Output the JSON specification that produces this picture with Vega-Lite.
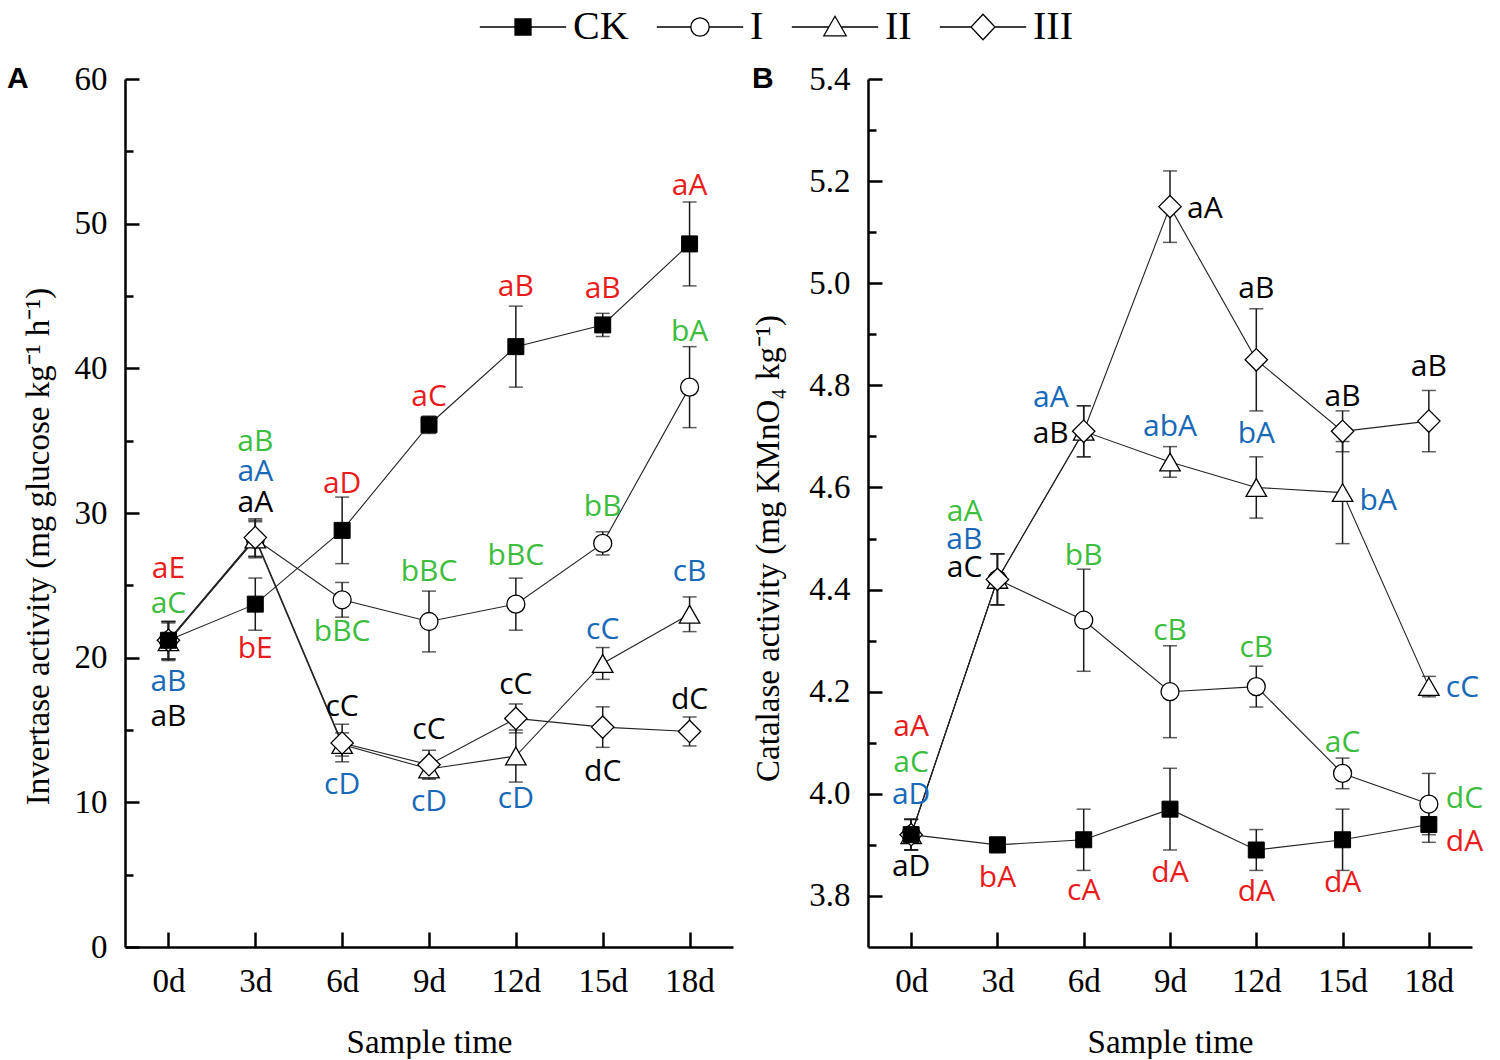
{
  "$schema": "https://vega.github.io/schema/vega-lite/v6.json",
  "background": "white",
  "padding": {"left": 7, "top": 7, "right": 5, "bottom": 0},
  "spacing": 135,
  "bounds": "flush",
  "datasets": {
    "inv": [
      {"day": 0, "s": "CK", "v": 21.2, "e": 1.3},
      {"day": 0, "s": "I", "v": 21.2, "e": 1.3},
      {"day": 0, "s": "II", "v": 21.1, "e": 1.3},
      {"day": 0, "s": "III", "v": 21.2, "e": 1.3},
      {"day": 3, "s": "CK", "v": 23.7, "e": 1.8},
      {"day": 3, "s": "I", "v": 28.2, "e": 1.3},
      {"day": 3, "s": "II", "v": 28.2, "e": 1.2},
      {"day": 3, "s": "III", "v": 28.3, "e": 1.3},
      {"day": 6, "s": "CK", "v": 28.8, "e": 2.3},
      {"day": 6, "s": "I", "v": 24.0, "e": 1.2},
      {"day": 6, "s": "II", "v": 14.0, "e": 0.8},
      {"day": 6, "s": "III", "v": 14.1, "e": 1.3},
      {"day": 9, "s": "CK", "v": 36.1, "e": 0.6},
      {"day": 9, "s": "I", "v": 22.5, "e": 2.1},
      {"day": 9, "s": "II", "v": 12.3, "e": 0.6},
      {"day": 9, "s": "III", "v": 12.6, "e": 1.0},
      {"day": 12, "s": "CK", "v": 41.5, "e": 2.8},
      {"day": 12, "s": "I", "v": 23.7, "e": 1.8},
      {"day": 12, "s": "II", "v": 13.2, "e": 1.8},
      {"day": 12, "s": "III", "v": 15.8, "e": 1.0},
      {"day": 15, "s": "CK", "v": 43.0, "e": 0.8},
      {"day": 15, "s": "I", "v": 27.9, "e": 0.8},
      {"day": 15, "s": "II", "v": 19.6, "e": 1.1},
      {"day": 15, "s": "III", "v": 15.2, "e": 1.4},
      {"day": 18, "s": "CK", "v": 48.6, "e": 2.9},
      {"day": 18, "s": "I", "v": 38.7, "e": 2.8},
      {"day": 18, "s": "II", "v": 23.0, "e": 1.2},
      {"day": 18, "s": "III", "v": 14.9, "e": 1.0}
    ],
    "cat": [
      {"day": 0, "s": "CK", "v": 3.92, "e": 0.03},
      {"day": 0, "s": "I", "v": 3.92, "e": 0.03},
      {"day": 0, "s": "II", "v": 3.92, "e": 0.03},
      {"day": 0, "s": "III", "v": 3.92, "e": 0.03},
      {"day": 3, "s": "CK", "v": 3.90, "e": 0.015},
      {"day": 3, "s": "I", "v": 4.42, "e": 0.05},
      {"day": 3, "s": "II", "v": 4.42, "e": 0.05},
      {"day": 3, "s": "III", "v": 4.42, "e": 0.05},
      {"day": 6, "s": "CK", "v": 3.91, "e": 0.06},
      {"day": 6, "s": "I", "v": 4.34, "e": 0.10},
      {"day": 6, "s": "II", "v": 4.71, "e": 0.05},
      {"day": 6, "s": "III", "v": 4.71, "e": 0.05},
      {"day": 9, "s": "CK", "v": 3.97, "e": 0.08},
      {"day": 9, "s": "I", "v": 4.20, "e": 0.09},
      {"day": 9, "s": "II", "v": 4.65, "e": 0.03},
      {"day": 9, "s": "III", "v": 5.15, "e": 0.07},
      {"day": 12, "s": "CK", "v": 3.89, "e": 0.04},
      {"day": 12, "s": "I", "v": 4.21, "e": 0.04},
      {"day": 12, "s": "II", "v": 4.60, "e": 0.06},
      {"day": 12, "s": "III", "v": 4.85, "e": 0.10},
      {"day": 15, "s": "CK", "v": 3.91, "e": 0.06},
      {"day": 15, "s": "I", "v": 4.04, "e": 0.03},
      {"day": 15, "s": "II", "v": 4.59, "e": 0.10},
      {"day": 15, "s": "III", "v": 4.71, "e": 0.04},
      {"day": 18, "s": "CK", "v": 3.94, "e": 0.035},
      {"day": 18, "s": "I", "v": 3.98, "e": 0.06},
      {"day": 18, "s": "II", "v": 4.21, "e": 0.02},
      {"day": 18, "s": "III", "v": 4.73, "e": 0.06}
    ],
    "invLab": [
      {"day": 0, "s": "CK", "txt": "aE", "ly": 26.1, "side": "c"},
      {"day": 0, "s": "I", "txt": "aC", "ly": 23.7, "side": "c"},
      {"day": 0, "s": "II", "txt": "aB", "ly": 18.3, "side": "c"},
      {"day": 0, "s": "III", "txt": "aB", "ly": 15.9, "side": "c"},
      {"day": 3, "s": "I", "txt": "aB", "ly": 34.9, "side": "c"},
      {"day": 3, "s": "II", "txt": "aA", "ly": 32.8, "side": "c"},
      {"day": 3, "s": "III", "txt": "aA", "ly": 30.7, "side": "c"},
      {"day": 3, "s": "CK", "txt": "bE", "ly": 20.6, "side": "c"},
      {"day": 6, "s": "CK", "txt": "aD", "ly": 32.0, "side": "c"},
      {"day": 6, "s": "I", "txt": "bBC", "ly": 21.8, "side": "c"},
      {"day": 6, "s": "III", "txt": "cC", "ly": 16.6, "side": "c"},
      {"day": 6, "s": "II", "txt": "cD", "ly": 11.2, "side": "c"},
      {"day": 9, "s": "CK", "txt": "aC", "ly": 38.0, "side": "c"},
      {"day": 9, "s": "I", "txt": "bBC", "ly": 25.9, "side": "c"},
      {"day": 9, "s": "III", "txt": "cC", "ly": 15.0, "side": "c"},
      {"day": 9, "s": "II", "txt": "cD", "ly": 10.0, "side": "c"},
      {"day": 12, "s": "CK", "txt": "aB", "ly": 45.6, "side": "c"},
      {"day": 12, "s": "I", "txt": "bBC", "ly": 27.0, "side": "c"},
      {"day": 12, "s": "III", "txt": "cC", "ly": 18.1, "side": "c"},
      {"day": 12, "s": "II", "txt": "cD", "ly": 10.2, "side": "c"},
      {"day": 15, "s": "CK", "txt": "aB", "ly": 45.5, "side": "c"},
      {"day": 15, "s": "I", "txt": "bB", "ly": 30.4, "side": "c"},
      {"day": 15, "s": "II", "txt": "cC", "ly": 21.9, "side": "c"},
      {"day": 15, "s": "III", "txt": "dC", "ly": 12.1, "side": "c"},
      {"day": 18, "s": "CK", "txt": "aA", "ly": 52.6, "side": "c"},
      {"day": 18, "s": "I", "txt": "bA", "ly": 42.5, "side": "c"},
      {"day": 18, "s": "II", "txt": "cB", "ly": 25.9, "side": "c"},
      {"day": 18, "s": "III", "txt": "dC", "ly": 17.1, "side": "c"}
    ],
    "catLab": [
      {"day": 0, "s": "CK", "txt": "aA", "ly": 4.13, "side": "c"},
      {"day": 0, "s": "I", "txt": "aC", "ly": 4.06, "side": "c"},
      {"day": 0, "s": "II", "txt": "aD", "ly": 3.998, "side": "c"},
      {"day": 0, "s": "III", "txt": "aD", "ly": 3.857, "side": "c"},
      {"day": 3, "s": "I", "txt": "aA", "ly": 4.551, "side": "l"},
      {"day": 3, "s": "II", "txt": "aB", "ly": 4.498, "side": "l"},
      {"day": 3, "s": "III", "txt": "aC", "ly": 4.443, "side": "l"},
      {"day": 3, "s": "CK", "txt": "bA", "ly": 3.835, "side": "c"},
      {"day": 6, "s": "II", "txt": "aA", "ly": 4.776, "side": "l"},
      {"day": 6, "s": "III", "txt": "aB", "ly": 4.704, "side": "l"},
      {"day": 6, "s": "I", "txt": "bB", "ly": 4.465, "side": "c"},
      {"day": 6, "s": "CK", "txt": "cA", "ly": 3.81, "side": "c"},
      {"day": 9, "s": "III", "txt": "aA", "ly": 5.145, "side": "r"},
      {"day": 9, "s": "II", "txt": "abA", "ly": 4.718, "side": "c"},
      {"day": 9, "s": "I", "txt": "cB", "ly": 4.318, "side": "c"},
      {"day": 9, "s": "CK", "txt": "dA", "ly": 3.845, "side": "c"},
      {"day": 12, "s": "III", "txt": "aB", "ly": 4.988, "side": "c"},
      {"day": 12, "s": "II", "txt": "bA", "ly": 4.704, "side": "c"},
      {"day": 12, "s": "I", "txt": "cB", "ly": 4.286, "side": "c"},
      {"day": 12, "s": "CK", "txt": "dA", "ly": 3.808, "side": "c"},
      {"day": 15, "s": "III", "txt": "aB", "ly": 4.778, "side": "c"},
      {"day": 15, "s": "II", "txt": "bA", "ly": 4.573, "side": "r"},
      {"day": 15, "s": "I", "txt": "aC", "ly": 4.10, "side": "c"},
      {"day": 15, "s": "CK", "txt": "dA", "ly": 3.825, "side": "c"},
      {"day": 18, "s": "III", "txt": "aB", "ly": 4.835, "side": "c"},
      {"day": 18, "s": "II", "txt": "cC", "ly": 4.208, "side": "r"},
      {"day": 18, "s": "I", "txt": "dC", "ly": 3.99, "side": "r"},
      {"day": 18, "s": "CK", "txt": "dA", "ly": 3.906, "side": "r"}
    ]
  },
  "hconcat": [
    {
      "width": 608,
      "height": 868,
      "title": {"text": "A", "anchor": "start", "frame": "group", "dx": -118, "dy": 59, "baseline": "alphabetic", "font": "Liberation Sans", "fontSize": 30, "fontWeight": "bold", "color": "black", "offset": 4},
      "data": {"name": "inv"},
      "encoding": {
        "x": {
          "field": "day", "type": "quantitative", "title": "Sample time",
          "scale": {"domain": [-1.5, 19.5], "nice": false, "zero": false},
          "axis": {"values": [0, 3, 6, 9, 12, 15, 18], "labelExpr": "datum.value + 'd'", "tickSize": -15, "labelPadding": 33, "titleY": 95, "titleBaseline": "middle", "labelFlush": false}
        },
        "y": {
          "field": "v", "type": "quantitative", "title": "Invertase activity (mg glucose kg⁻¹ h⁻¹)",
          "scale": {"domain": [0, 60], "nice": false, "zero": false},
          "axis": {
            "values": [0, 5, 10, 15, 20, 25, 30, 35, 40, 45, 50, 55, 60],
            "labelExpr": "datum.value % 10 === 0 ? datum.label : ''",
            "tickSize": {"condition": {"test": "datum.value % 10 === 0", "value": -14}, "value": -8},
            "labelPadding": 32,
            "titleX": -87, "titleY": 467, "titleBaseline": "middle", "titleAngle": -90
          }
        }
      },
      "layer": [
        {"mark": {"type": "line", "color": "#222222", "strokeWidth": 1.1}, "encoding": {"detail": {"field": "s"}}},
        {"mark": {"type": "errorbar", "ticks": true, "size": 14, "thickness": 1.5, "color": "#1a1a1a"}, "encoding": {"yError": {"field": "e"}}},
        {
          "mark": {"type": "point", "filled": true, "opacity": 0, "strokeWidth": 1.3},
          "encoding": {
            "shape": {"field": "s", "type": "nominal",
              "scale": {"domain": ["CK", "I", "II", "III"], "range": [
                "M-5.4,0H-1M1,0H5.4M-1,-1H1V1H-1Z",
                "M-5.4,0H-1.15M1.15,0H5.4M1.15,0A1.15,1.15,0,1,1,-1.15,0A1.15,1.15,0,1,1,1.15,0Z",
                "M-5.4,0H-0.77M0.77,0H5.4M0,-1.35L1.4,1.1H-1.4Z",
                "M-5.4,0H-1.5M1.5,0H5.4M0,-1.6L1.5,0L0,1.6L-1.5,0Z"]},
              "legend": {"orient": "none", "legendX": 378, "legendY": -72, "direction": "horizontal", "title": null, "symbolSize": 256, "symbolStrokeColor": "black", "symbolStrokeWidth": 1.3, "symbolOpacity": 1, "labelFont": "Liberation Serif", "labelFontSize": 40, "labelColor": "black", "labelOffset": 30, "columnPadding": 25}},
            "fill": {"field": "s", "type": "nominal",
              "scale": {"domain": ["CK", "I", "II", "III"], "range": ["black", "white", "white", "white"]},
              "legend": {"orient": "none", "legendX": 378, "legendY": -72, "direction": "horizontal", "title": null, "symbolSize": 256, "symbolStrokeColor": "black", "symbolStrokeWidth": 1.3, "symbolOpacity": 1, "labelFont": "Liberation Serif", "labelFontSize": 40, "labelColor": "black", "labelOffset": 30, "columnPadding": 25}},
            "stroke": {"field": "s", "type": "nominal",
              "scale": {"domain": ["CK", "I", "II", "III"], "range": ["black", "black", "black", "black"]},
              "legend": {"orient": "none", "legendX": 378, "legendY": -72, "direction": "horizontal", "title": null, "symbolSize": 256, "symbolStrokeColor": "black", "symbolStrokeWidth": 1.3, "symbolOpacity": 1, "labelFont": "Liberation Serif", "labelFontSize": 40, "labelColor": "black", "labelOffset": 30, "columnPadding": 25}}
          }
        },
        {"transform": [{"filter": "datum.s === 'I'"}], "mark": {"type": "point", "shape": "circle", "size": 324, "filled": true, "fill": "white", "stroke": "black", "strokeWidth": 1.3, "opacity": 1}},
        {"transform": [{"filter": "datum.s === 'II'"}], "mark": {"type": "point", "shape": "triangle-up", "size": 420, "filled": true, "fill": "white", "stroke": "black", "strokeWidth": 1.3, "opacity": 1}},
        {"transform": [{"filter": "datum.s === 'III'"}], "mark": {"type": "point", "shape": "diamond", "size": 500, "filled": true, "fill": "white", "stroke": "black", "strokeWidth": 1.3, "opacity": 1}},
        {"transform": [{"filter": "datum.s === 'CK'"}], "mark": {"type": "point", "shape": "square", "size": 256, "filled": true, "fill": "black", "stroke": "black", "strokeWidth": 1, "opacity": 1}},
        {
          "data": {"name": "invLab"},
          "mark": {"type": "text", "font": "Open Sans", "fontSize": 30, "align": "center", "baseline": "middle"},
          "encoding": {
            "y": {"field": "ly", "type": "quantitative", "title": "Invertase activity (mg glucose kg⁻¹ h⁻¹)"},
            "text": {"field": "txt"},
            "color": {"field": "s", "type": "nominal", "scale": {"domain": ["CK", "I", "II", "III"], "range": ["#e81c1c", "#3dbd3d", "#1769b8", "#000000"]}, "legend": null}
          }
        }
      ]
    },
    {
      "width": 604,
      "height": 868,
      "title": {"text": "B", "anchor": "start", "frame": "group", "dx": -116, "dy": 59, "baseline": "alphabetic", "font": "Liberation Sans", "fontSize": 30, "fontWeight": "bold", "color": "black", "offset": 4},
      "data": {"name": "cat"},
      "encoding": {
        "x": {
          "field": "day", "type": "quantitative", "title": "Sample time",
          "scale": {"domain": [-1.5, 19.5], "nice": false, "zero": false},
          "axis": {"values": [0, 3, 6, 9, 12, 15, 18], "labelExpr": "datum.value + 'd'", "tickSize": -15, "labelPadding": 33, "titleY": 95, "titleBaseline": "middle", "labelFlush": false}
        },
        "y": {
          "field": "v", "type": "quantitative", "title": "Catalase activity (mg KMnO₄ kg⁻¹)",
          "scale": {"domain": [3.7, 5.4], "nice": false, "zero": false},
          "axis": {
            "values": [3.8, 3.9, 4.0, 4.1, 4.2, 4.3, 4.4, 4.5, 4.6, 4.7, 4.8, 4.9, 5.0, 5.1, 5.2, 5.3, 5.4],
            "format": ".1f",
            "labelExpr": "round(datum.value * 10) % 2 === 0 ? datum.label : ''",
            "tickSize": {"condition": {"test": "round(datum.value * 10) % 2 === 0", "value": -14}, "value": -8},
            "labelPadding": 32,
            "titleX": -100, "titleY": 469, "titleBaseline": "middle", "titleAngle": -90
          }
        }
      },
      "layer": [
        {"mark": {"type": "line", "color": "#222222", "strokeWidth": 1.1}, "encoding": {"detail": {"field": "s"}}},
        {"mark": {"type": "errorbar", "ticks": true, "size": 14, "thickness": 1.5, "color": "#1a1a1a"}, "encoding": {"yError": {"field": "e"}}},
        {"transform": [{"filter": "datum.s === 'I'"}], "mark": {"type": "point", "shape": "circle", "size": 324, "filled": true, "fill": "white", "stroke": "black", "strokeWidth": 1.3, "opacity": 1}},
        {"transform": [{"filter": "datum.s === 'II'"}], "mark": {"type": "point", "shape": "triangle-up", "size": 420, "filled": true, "fill": "white", "stroke": "black", "strokeWidth": 1.3, "opacity": 1}},
        {"transform": [{"filter": "datum.s === 'III'"}], "mark": {"type": "point", "shape": "diamond", "size": 500, "filled": true, "fill": "white", "stroke": "black", "strokeWidth": 1.3, "opacity": 1}},
        {"transform": [{"filter": "datum.s === 'CK'"}], "mark": {"type": "point", "shape": "square", "size": 256, "filled": true, "fill": "black", "stroke": "black", "strokeWidth": 1, "opacity": 1}},
        {
          "data": {"name": "catLab"},
          "transform": [{"filter": "datum.side === 'c'"}],
          "mark": {"type": "text", "font": "Open Sans", "fontSize": 30, "align": "center", "baseline": "middle"},
          "encoding": {
            "y": {"field": "ly", "type": "quantitative", "title": "Catalase activity (mg KMnO₄ kg⁻¹)"},
            "text": {"field": "txt"},
            "color": {"field": "s", "type": "nominal", "scale": {"domain": ["CK", "I", "II", "III"], "range": ["#e81c1c", "#3dbd3d", "#1769b8", "#000000"]}, "legend": null}
          }
        },
        {
          "data": {"name": "catLab"},
          "transform": [{"filter": "datum.side === 'l'"}],
          "mark": {"type": "text", "font": "Open Sans", "fontSize": 30, "align": "right", "baseline": "middle", "dx": -15},
          "encoding": {
            "y": {"field": "ly", "type": "quantitative", "title": "Catalase activity (mg KMnO₄ kg⁻¹)"},
            "text": {"field": "txt"},
            "color": {"field": "s", "type": "nominal", "legend": null}
          }
        },
        {
          "data": {"name": "catLab"},
          "transform": [{"filter": "datum.side === 'r'"}],
          "mark": {"type": "text", "font": "Open Sans", "fontSize": 30, "align": "left", "baseline": "middle", "dx": 17},
          "encoding": {
            "y": {"field": "ly", "type": "quantitative", "title": "Catalase activity (mg KMnO₄ kg⁻¹)"},
            "text": {"field": "txt"},
            "color": {"field": "s", "type": "nominal", "legend": null}
          }
        }
      ]
    }
  ],
  "config": {
    "view": {"stroke": null},
    "axis": {
      "grid": false,
      "domainColor": "black", "domainWidth": 2.5,
      "tickColor": "black", "tickWidth": 2.5,
      "labelFont": "Liberation Serif", "labelFontSize": 33, "labelColor": "black",
      "titleFont": "Liberation Serif", "titleFontSize": 33, "titleFontWeight": "normal", "titleColor": "black"
    }
  }
}
